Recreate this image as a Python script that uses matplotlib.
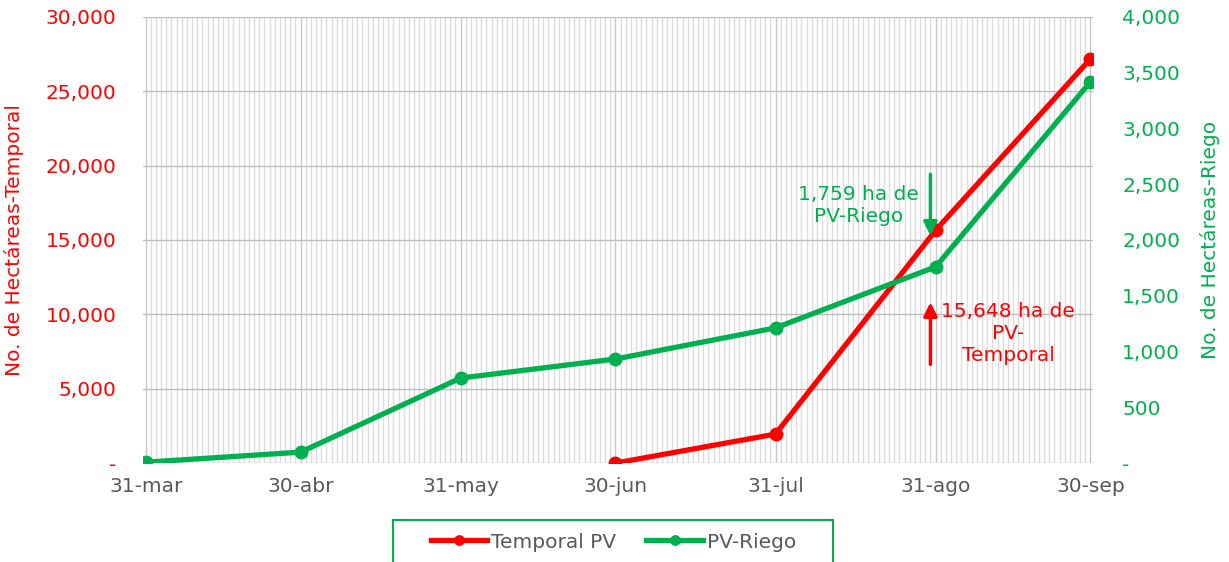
import numpy as np
import pandas as pd
import matplotlib
matplotlib.use("Agg")
import matplotlib.pyplot as plt
import matplotlib.dates as mdates
from matplotlib.patches import Rectangle
from matplotlib.ticker import FuncFormatter, MultipleLocator

# Datos
fechas = ["2023-03-31", "2023-04-30", "2023-05-31", "2023-06-30",
          "2023-07-31", "2023-08-31", "2023-09-30"]
etiquetas_x = ["31-mar", "30-abr", "31-may", "30-jun", "31-jul", "31-ago", "30-sep"]
fechas_temporal = ["2023-06-30", "2023-07-31", "2023-08-31", "2023-09-30"]
temporal_pv = [0, 1950, 15648, 27180]
pv_riego = [8, 98, 762, 933, 1212, 1759, 3418]

ROJO = "#FF0000"
VERDE = "#00B050"
GRIS = "#595959"
FS = 14.5

plt.rcParams['font.family'] = ['DejaVu Sans']

x = pd.to_datetime(fechas)
x_temp = pd.to_datetime(fechas_temporal)

fig = plt.figure(figsize=(12.29, 5.62), dpi=100)
ax = fig.add_axes([0.1164, 0.176, 0.773, 0.794])
ax2 = ax.twinx()

# Rejilla diaria
ax.xaxis.set_minor_locator(mdates.DayLocator())
ax.set_xticks(x)
ax.set_xticklabels(etiquetas_x)
ax.grid(True, which='minor', axis='x', color='#dcdcdc', linewidth=1)
ax.grid(True, which='major', axis='x', color='#c8c8c8', linewidth=1)
ax.grid(True, which='major', axis='y', color='#bfbfbf', linewidth=1)
ax.set_axisbelow(True)

l1, = ax.plot(x_temp, temporal_pv, color=ROJO, lw=3.8, marker='o', ms=9,
              label="Temporal PV", zorder=5)
l2, = ax2.plot(x, pv_riego, color=VERDE, lw=3.8, marker='o', ms=9,
               label="PV-Riego", zorder=5)

ax.set_xlim(x[0] - pd.Timedelta(days=0.5), x[-1] + pd.Timedelta(days=0.5))
ax.set_ylim(0, 30000)
ax2.set_ylim(0, 4000)
ax.yaxis.set_major_locator(MultipleLocator(5000))
ax2.yaxis.set_major_locator(MultipleLocator(500))

fmt = FuncFormatter(lambda v, p: "-" if v == 0 else f"{v:,.0f}")
ax.yaxis.set_major_formatter(fmt)
ax2.yaxis.set_major_formatter(fmt)

for a in (ax, ax2):
    for s in a.spines.values():
        s.set_visible(False)
ax.tick_params(axis='y', colors=ROJO, labelsize=FS, length=0, pad=19)
ax2.tick_params(axis='y', colors=VERDE, labelsize=FS, length=0, pad=21)
ax.tick_params(axis='x', which='both', length=0, labelsize=FS, labelcolor=GRIS, pad=10)

ax.set_ylabel("No. de Hectáreas-Temporal", color=ROJO, fontsize=FS, labelpad=16)
ax2.set_ylabel("No. de Hectáreas-Riego", color=VERDE, fontsize=FS, labelpad=14)

# Anotaciones
xa = pd.Timestamp("2023-08-30")
ax.annotate("", xy=(xa, 15100), xytext=(xa, 19600),
            arrowprops=dict(arrowstyle="-|>", color=VERDE, lw=2.5, mutation_scale=20),
            zorder=6)
ax.text(pd.Timestamp("2023-08-16"), 17300, "1,759 ha de\nPV-Riego", color=VERDE,
        fontsize=FS, ha='center', va='center', linespacing=1.2)
ax.annotate("", xy=(xa, 11000), xytext=(xa, 6450),
            arrowprops=dict(arrowstyle="-|>", color=ROJO, lw=2.5, mutation_scale=20),
            zorder=6)
ax.text(pd.Timestamp("2023-09-14"), 8700, "15,648 ha de\nPV-\nTemporal", color=ROJO,
        fontsize=FS, ha='center', va='center', linespacing=1.2)

# Leyenda con marco propio (cortado por el borde inferior)
leg = fig.legend(handles=[l1, l2], loc='center', bbox_to_anchor=(0.499, 1 - 542 / 562),
                 ncol=2, fontsize=FS, frameon=False, borderaxespad=0,
                 handlelength=2.8, handletextpad=0.2, columnspacing=1.5,
                 markerscale=0.75)
for t in leg.get_texts():
    t.set_color(GRIS)
fig.patches.append(Rectangle((393 / 1229, -0.05), 440 / 1229, 0.05 + 1 - 520 / 562,
                             transform=fig.transFigure, fill=False,
                             edgecolor=VERDE, linewidth=1.5))

fig.savefig("out.png", dpi=100)
